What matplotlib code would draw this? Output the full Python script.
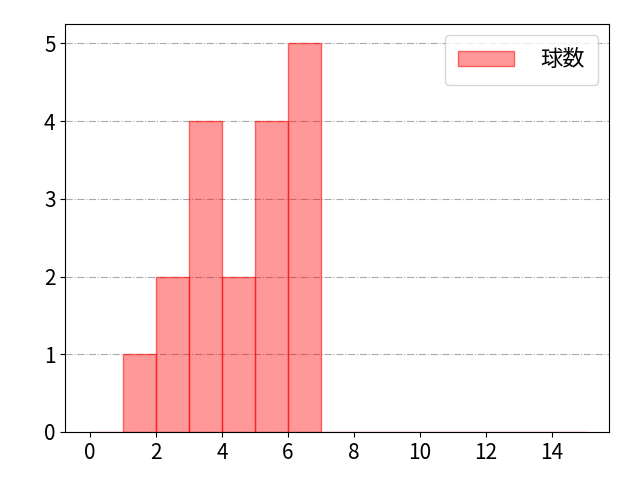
import numpy as np
import matplotlib
matplotlib.use("Agg")
import matplotlib.pyplot as plt

plt.rcParams['font.family'] = ['Noto Sans CJK JP', 'DejaVu Sans']

# bin edges 0..15, pitch counts per bin
bin_edges = np.arange(0, 16)
counts = [0, 1, 2, 4, 2, 4, 5, 0, 0, 0, 0, 0, 0, 0, 0]
label = "球数"

fig, ax = plt.subplots(figsize=(6.4, 4.8), dpi=100)
ax.hist(bin_edges[:-1], bins=bin_edges, weights=counts,
        facecolor=(1, 0, 0, 0.4), edgecolor=(1, 0, 0, 0.55),
        linewidth=1, label=label)
ax.grid(axis='y', linestyle='-.', color='#aaaaaa', linewidth=0.8)
ax.set_axisbelow(True)
ax.tick_params(labelsize=15)
ax.set_xticks(np.arange(0, 16, 2))
ax.legend(loc='upper right', fontsize=16, borderpad=0.6, handlelength=2.5,
          handletextpad=1.2)
fig.subplots_adjust(left=0.102, right=0.952, top=0.95, bottom=0.1)
fig.savefig("out.png")
